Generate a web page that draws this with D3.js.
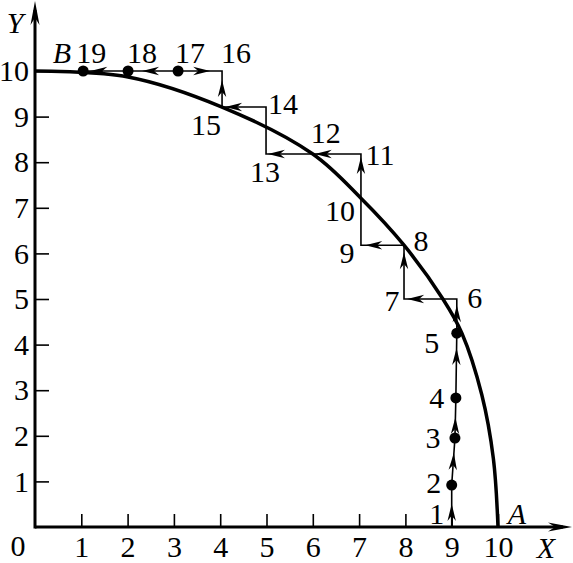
<!DOCTYPE html>
<html lang="en">
<head>
<meta charset="utf-8">
<script src="https://d3js.org/d3.v7.min.js"></script>
<style>
  body { margin: 0; background: #fff; }
  svg text { font-family: "Liberation Serif", "Times New Roman", Times, serif !important; fill: #000; }
</style>
</head>
<body>
<div id="chart"></div>
<script>
// tick values on both axes
const xTicks = [1, 2, 3, 4, 5, 6, 7, 8, 9, 10];
const yTicks = [1, 2, 3, 4, 5, 6, 7, 8, 9, 10];

// the arc from A (10,0) to B (0,10)
const arcX = [10, 9.9, 9.65, 9.22, 8.81, 7.97, 7.04, 6.0, 4.04, 2.01, 0];
const arcY = [0, 1.5, 2.9, 4.25, 5.0, 6.18, 7.21, 8.18, 9.21, 9.87, 10];

// the stepping path, points 1..19
const stepLabels = ["1","2","3","4","5","6","7","8","9","10","11","12","13","14","15","16","17","18","19"];
const stepX = [9, 9, 9.07, 9.09, 9.11, 9.11, 7.97, 7.97, 7.04, 7.04, 7.04, 6.0, 4.99, 4.99, 4.04, 4.04, 3.09, 2.01, 1.04];
const stepY = [0, 0.92, 1.95, 2.83, 4.25, 5.0, 5.0, 6.18, 6.18, 7.21, 8.18, 8.18, 8.18, 9.21, 9.21, 10, 10, 10, 10];
const dotted = ["2", "3", "4", "5", "17", "18", "19"];

// arrows: on the segment that starts at point arrowFrom
const arrowFrom = ["1","2","3","4","5","6","7","8","10","11","12","14","15","16","17","18"];
const arrowBack = ["16"];

const width = 573, height = 563;
const margin = {left: 35, bottom: 36};
const serif = '"Liberation Serif", "Times New Roman", Times, serif';
const fs = "30px";

const svg = d3.select("#chart")
  .append("svg")
    .attr("width", width)
    .attr("height", height);

const x = d3.scaleLinear().domain([0, 10]).range([margin.left, 498]);
const y = d3.scaleLinear().domain([0, 10]).range([height - margin.bottom, 71]);

// barbed arrow head, tip at (tx,ty), pointing along angle a
function arrowHead(tx, ty, a, len, w) {
  const pts = [[0, 0], [-len, -w], [-len + len * 0.3, 0], [-len, w]];
  const c = Math.cos(a), s = Math.sin(a);
  return "M" + pts.map(p => [tx + p[0] * c - p[1] * s, ty + p[0] * s + p[1] * c].join(",")).join("L") + "Z";
}

// axes
const xAxis = svg.append("g")
  .attr("transform", `translate(0,${y(0)})`)
  .call(d3.axisBottom(x).tickValues(xTicks).tickSizeInner(-13).tickSizeOuter(0).tickPadding(9));
const yAxis = svg.append("g")
  .attr("transform", `translate(${x(0)},0)`)
  .call(d3.axisLeft(y).tickValues(yTicks).tickSizeInner(-14).tickSizeOuter(0).tickPadding(6));

[xAxis, yAxis].forEach(g => {
  g.attr("font-family", serif);
  g.select(".domain").remove();
  g.selectAll(".tick line").attr("stroke", "#000").attr("stroke-width", 1.6);
  g.selectAll(".tick text").style("font-size", fs).attr("fill", "#000");
});

svg.append("line")
  .attr("x1", x(0)).attr("y1", y(0))
  .attr("x2", width - 10).attr("y2", y(0))
  .attr("stroke", "#000").attr("stroke-width", 3);
svg.append("line")
  .attr("x1", x(0)).attr("y1", y(0) + 1.5)
  .attr("x2", x(0)).attr("y2", 10)
  .attr("stroke", "#000").attr("stroke-width", 3);
svg.append("path").attr("d", arrowHead(width - 1, y(0), 0, 24, 4.5)).attr("fill", "#000");
svg.append("path").attr("d", arrowHead(x(0), 1, -Math.PI / 2, 24, 4.5)).attr("fill", "#000");

function label(px, py, txt, italic) {
  svg.append("text").attr("x", px).attr("y", py).attr("dy", "0.35em")
    .attr("text-anchor", "middle")
    .attr("font-family", serif)
    .style("font-size", fs)
    .style("font-style", italic ? "italic" : "normal")
    .text(txt);
}
label(18, 545, "0", false);
label(546, 547, "X", true);
label(15, 22, "Y", true);

// the arc
const arcData = arcX.map((v, i) => ({x: v, y: arcY[i]}));
svg.append("path")
  .datum(arcData)
  .attr("fill", "none")
  .attr("stroke", "#000")
  .attr("stroke-width", 3.5)
  .attr("d", d3.line().x(d => x(d.x)).y(d => y(d.y)).curve(d3.curveCatmullRom.alpha(0.5)));

label(x(10) + 19, y(0) - 14, "A", true);
label(x(0) + 27, y(10) - 19, "B", true);

// stepping path
const steps = stepX.map((v, i) => ({x: v, y: stepY[i], label: stepLabels[i]}));
svg.append("path")
  .datum(steps)
  .attr("fill", "none")
  .attr("stroke", "#000")
  .attr("stroke-width", 1.6)
  .attr("d", d3.line().x(d => x(d.x)).y(d => y(d.y)));

// where along each arrowed segment the tip sits
const arrowAt = [0.55, 0.68, 0.52, 0.77, 0.82, 0.94, 0.87, 0.9, 0.93, 0.96, 0.96, 0.93, 0.75, 0.27, 0.72, 0.84];
arrowFrom.forEach((lab, k) => {
  const i = stepLabels.indexOf(lab);
  const p = steps[i], q = steps[i + 1];
  const x0 = x(p.x), y0 = y(p.y), x1 = x(q.x), y1 = y(q.y);
  const t = arrowAt[k];
  const tx = x0 + (x1 - x0) * t, ty = y0 + (y1 - y0) * t;
  let a = Math.atan2(y1 - y0, x1 - x0);
  if (arrowBack.includes(lab)) a += Math.PI;
  svg.append("path").attr("d", arrowHead(tx, ty, a, 17, 4.2)).attr("fill", "#000");
});

svg.selectAll(".dot")
  .data(steps.filter(d => dotted.includes(d.label)))
  .join("circle")
    .attr("class", "dot")
    .attr("cx", d => x(d.x))
    .attr("cy", d => y(d.y))
    .attr("r", 5.5)
    .attr("fill", "#000");

// label offsets from each point, in pixels
const labelOffset = [[-15,-14],[-18,-3],[-22,-1],[-19,0],[-25,9],[18,-2],[-12,1],[17,-5],[-14,7],[-21,12],
  [19,1],[13,-21],[-1,18],[17,-4],[-16,17],[14,-19],[12,-19],[14,-19],[8,-19]];
steps.forEach((d, i) => label(x(d.x) + labelOffset[i][0], y(d.y) + labelOffset[i][1], d.label, false));
</script>
</body>
</html>
